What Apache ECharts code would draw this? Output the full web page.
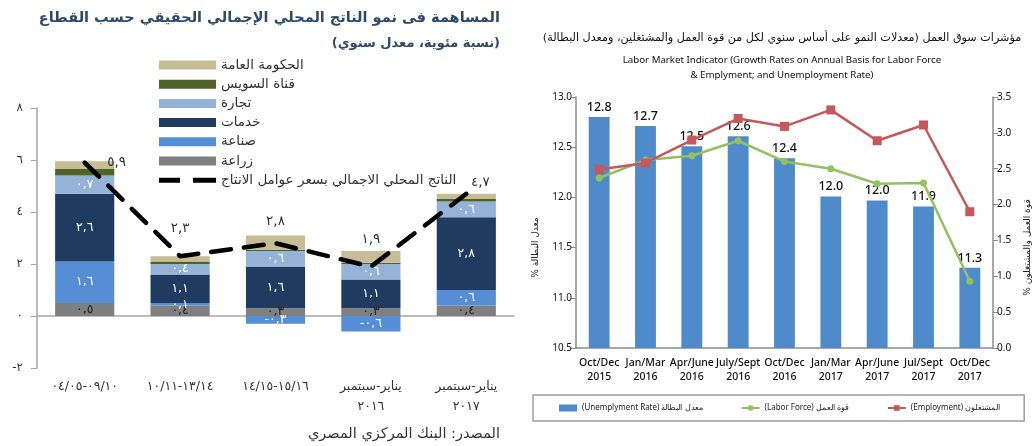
<!DOCTYPE html>
<html>
<head>
<meta charset="utf-8">
<title>GDP contribution and labour market</title>
<script src="https://cdn.jsdelivr.net/npm/echarts@6/dist/echarts.min.js"></script>
<style>
  html, body { margin: 0; background: #fff; }
  #chart { width: 1036px; height: 446px; }
</style>
</head>
<body>
<div id="chart"></div>
<script>
// ---- left panel: contribution to real GDP growth by sector ----
const periods = ['٠٤/٠٥-٠٩/١٠', '١٠/١١-١٣/١٤', '١٤/١٥-١٥/١٦', 'يناير-سبتمبر\n٢٠١٦', 'يناير-سبتمبر\n٢٠١٧'];
const agriculture = [0.5, 0.4, 0.3, 0.3, 0.4];
const industry = [1.6, 0.1, -0.3, -0.6, 0.6];
const services = [2.6, 1.1, 1.6, 1.1, 2.8];
const trade = [0.7, 0.4, 0.6, 0.6, 0.6];
const suezCanal = [0.25, 0.1, 0.05, 0.05, 0.1];
const government = [0.3, 0.2, 0.55, 0.45, 0.2];
const gdpFactorCost = [5.9, 2.3, 2.8, 1.9, 4.7];

// ---- right panel: labour market indicators ----
const quarters = ['Oct/Dec\n2015', 'Jan/Mar\n2016', 'Apr/June\n2016', 'July/Sept\n2016', 'Oct/Dec\n2016',
                  'Jan/Mar\n2017', 'Apr/June\n2017', 'Jul/Sept\n2017', 'Oct/Dec\n2017'];
const unemploymentRate = [12.8, 12.71, 12.51, 12.61, 12.39, 12.01, 11.97, 11.91, 11.3];
const laborForce = [2.37, 2.62, 2.68, 2.89, 2.6, 2.5, 2.29, 2.3, 0.93];
const employment = [2.49, 2.58, 2.9, 3.2, 3.09, 3.32, 2.89, 3.11, 1.9];

const LRO = '\u202D', PDF = '\u202C', RLM = '\u200F';
const ltr = s => LRO + s + PDF;
const rtl = s => RLM + s + RLM;
const AR_DIGITS = '٠١٢٣٤٥٦٧٨٩';
const toAr = s => String(s).replace(/[0-9]/g, d => AR_DIGITS[d]);
const arDec = v => ltr((v < 0 ? '-' : '') + toAr(Math.abs(v).toFixed(1)).replace('.', ','));
const arInt = v => ltr((v < 0 ? '-' : '') + toAr(Math.abs(v)));

const AR_FONT = 'DejaVu Sans';
const EN_FONT = 'Noto Sans';

const sectorNames = ['زراعة', 'صناعة', 'خدمات', 'تجارة', 'قناة السويس', 'الحكومة العامة'];
const sectorData = [agriculture, industry, services, trade, suezCanal, government];
const sectorColors = ['#7f7f7f', '#558ed5', '#1f3b60', '#95b3d7', '#4f6228', '#c6bd97'];
const sectorLabelColors = ['#222', '#fff', '#fff', '#fff', null, null];
const gdpName = 'الناتج المحلي الاجمالي بسعر عوامل الانتاج';

// where each GDP value label sits relative to its point
const gdpLabelPlace = [
  { position: 'right', distance: 22 },
  { position: 'top', distance: 20 },
  { position: 'top', distance: 14 },
  { position: 'top', distance: 20 },
  { position: 'top', distance: 4, offset: [14, 0] }
];
// two thick dashes for the legend entry of the dashed line
const dashIcon = 'path://M0,2h21v5h-21z M34,2h23v5h-23z M0,0h0.1v0.1h-0.1z M56.9,8.9h0.1v0.1h-0.1z';

const unempName = '(Unemplyment Rate) معدل البطالة';
const laborName = '(Labor Force) قوة العمل';
const emplName = '(Employment) المشتغلون';

const sectorSeries = sectorNames.map((name, k) => ({
  name,
  type: 'bar',
  stack: 'gdp',
  xAxisIndex: 0,
  yAxisIndex: 0,
  barWidth: '62%',
  itemStyle: { color: sectorColors[k] },
  label: {
    show: sectorLabelColors[k] !== null,
    position: 'inside',
    color: sectorLabelColors[k] || '#fff',
    fontFamily: AR_FONT,
    fontSize: 12.5,
    formatter: p => arDec(p.value)
  },
  data: sectorData[k]
}));

const option = {
  animation: false,
  backgroundColor: '#fff',
  title: [
    {
      text: 'المساهمة فى نمو الناتج المحلي الإجمالي الحقيقي حسب القطاع',
      right: 531, top: 6,
      textStyle: { fontFamily: AR_FONT, fontSize: 14.5, fontWeight: 'bold', color: '#2d4a6d' }
    },
    {
      text: rtl('(نسبة مئوية، معدل سنوي)'),
      right: 531, top: 32,
      textStyle: { fontFamily: AR_FONT, fontSize: 13, fontWeight: 'bold', color: '#2d4a6d' }
    },
    {
      text: rtl('المصدر: البنك المركزي المصري'),
      right: 531, top: 422,
      textStyle: { fontFamily: AR_FONT, fontSize: 14.5, fontWeight: 'normal', color: '#333' }
    },
    {
      text: rtl('مؤشرات سوق العمل (معدلات النمو على أساس سنوي لكل من قوة العمل والمشتغلين، ومعدل البطالة)'),
      left: 777, top: 28, textAlign: 'center',
      textStyle: { fontFamily: AR_FONT, fontSize: 11.2, fontWeight: 'normal', color: '#111' }
    },
    {
      text: 'Labor Market Indicator (Growth Rates on Annual Basis for Labor Force\n& Emplyment; and Unemployment Rate)',
      left: 777, top: 48, textAlign: 'center',
      textStyle: { fontFamily: EN_FONT, fontSize: 9.7, fontWeight: 'normal', color: '#111', lineHeight: 15, align: 'center' }
    }
  ],
  legend: [
    {
      data: [{ name: unempName, icon: 'rect' }, laborName, emplName],
      left: 533, top: 395,
      padding: [9, 24, 9, 26],
      itemGap: 38,
      itemWidth: 18, itemHeight: 7,
      borderColor: '#a0a0a0', borderWidth: 1.5,
      textStyle: { fontFamily: EN_FONT, fontSize: 8, color: '#222' }
    },
    {
      data: [
        { name: 'الحكومة العامة', icon: 'rect' },
        { name: 'قناة السويس', icon: 'rect' },
        { name: 'تجارة', icon: 'rect' },
        { name: 'خدمات', icon: 'rect' },
        { name: 'صناعة', icon: 'rect' },
        { name: 'زراعة', icon: 'rect' },
        { name: gdpName, icon: dashIcon }
      ],
      orient: 'vertical',
      left: 154, top: 53,
      itemWidth: 57, itemHeight: 9,
      itemGap: 5.2,
      textStyle: { fontFamily: AR_FONT, fontSize: 13.5, color: '#333' }
    }
  ],
  grid: [
    { left: 37, top: 108, width: 477, height: 260, outerBoundsMode: 'none' },
    { left: 576, top: 97, width: 417, height: 251, outerBoundsMode: 'none' }
  ],
  xAxis: [
    {
      type: 'category', gridIndex: 0, data: periods,
      axisLine: { lineStyle: { color: '#a6a6a6', width: 1.5 } },
      axisTick: { lineStyle: { color: '#a6a6a6' }, length: 5 },
      axisLabel: {
        interval: 0, margin: 9, fontFamily: AR_FONT, fontSize: 12.5, color: '#333', lineHeight: 20,
        formatter: v => v.includes('\n') ? v : ltr(v)
      }
    },
    {
      type: 'category', gridIndex: 1, data: quarters,
      axisLine: { lineStyle: { color: '#8c8c8c', width: 1.5 } },
      axisTick: { show: false },
      axisLabel: { interval: 0, margin: 8, fontFamily: EN_FONT, fontSize: 10.5, fontWeight: 500, color: '#111', lineHeight: 14 }
    }
  ],
  yAxis: [
    {
      type: 'value', gridIndex: 0, min: -2, max: 8, interval: 2,
      axisLine: { show: true, lineStyle: { color: '#a6a6a6', width: 1.5 } },
      axisTick: { show: true, length: 6, lineStyle: { color: '#a6a6a6' } },
      splitLine: { show: false },
      axisLabel: { margin: 14, fontFamily: AR_FONT, fontSize: 12, color: '#333', formatter: v => arInt(v) }
    },
    {
      type: 'value', gridIndex: 1, min: 10.5, max: 13, interval: 0.5,
      name: rtl('معدل البطالة %'), nameLocation: 'middle', nameRotate: 90, nameGap: 36,
      nameTextStyle: { fontFamily: AR_FONT, fontSize: 9, color: '#222', padding: [0, 50, 0, 0] },
      axisLine: { show: true, lineStyle: { color: '#8c8c8c', width: 1.5 } },
      axisTick: { show: true, length: 5, lineStyle: { color: '#8c8c8c' } },
      splitLine: { show: false },
      axisLabel: { margin: 4, fontFamily: EN_FONT, fontSize: 10, color: '#111', formatter: v => v.toFixed(1) }
    },
    {
      type: 'value', gridIndex: 1, position: 'right', min: 0, max: 3.5, interval: 0.5,
      name: rtl('قوة العمل والمشتغلون %'), nameLocation: 'middle', nameRotate: 90, nameGap: 30,
      nameTextStyle: { fontFamily: AR_FONT, fontSize: 9, color: '#222', padding: [0, 50, 0, 0] },
      axisLine: { show: true, lineStyle: { color: '#8c8c8c', width: 1.5 } },
      axisTick: { show: true, length: 5, lineStyle: { color: '#8c8c8c' } },
      splitLine: { show: false },
      axisLabel: { margin: 4, fontFamily: EN_FONT, fontSize: 10, color: '#111', formatter: v => v.toFixed(1) }
    }
  ],
  series: [
    ...sectorSeries,
    {
      name: gdpName,
      type: 'line',
      xAxisIndex: 0, yAxisIndex: 0,
      symbol: 'circle', symbolSize: 1,
      z: 5,
      lineStyle: { color: '#000', width: 4.5, type: [20, 13], cap: 'round' },
      itemStyle: { color: '#000' },
      label: { show: true, fontFamily: AR_FONT, fontSize: 13.5, color: '#333', formatter: p => arDec(p.value) },
      data: gdpFactorCost.map((v, i) => ({ value: v, label: gdpLabelPlace[i] }))
    },
    {
      name: unempName,
      type: 'bar',
      xAxisIndex: 1, yAxisIndex: 1,
      barWidth: '45%',
      itemStyle: { color: '#4f8bcb' },
      label: {
        show: true, position: 'top', distance: 3,
        fontFamily: EN_FONT, fontSize: 12.5, fontWeight: 500, color: '#111',
        formatter: p => p.value.toFixed(1)
      },
      data: unemploymentRate
    },
    {
      name: laborName,
      type: 'line',
      xAxisIndex: 1, yAxisIndex: 2,
      symbol: 'circle', symbolSize: 7,
      itemStyle: { color: '#93c060' },
      lineStyle: { color: '#93c060', width: 2.5 },
      data: laborForce
    },
    {
      name: emplName,
      type: 'line',
      xAxisIndex: 1, yAxisIndex: 2,
      symbol: 'rect', symbolSize: 9,
      itemStyle: { color: '#c6575a' },
      lineStyle: { color: '#c6575a', width: 2.5 },
      data: employment
    }
  ]
};

const chart = echarts.init(document.getElementById('chart'));
chart.setOption(option);
</script>
</body>
</html>
